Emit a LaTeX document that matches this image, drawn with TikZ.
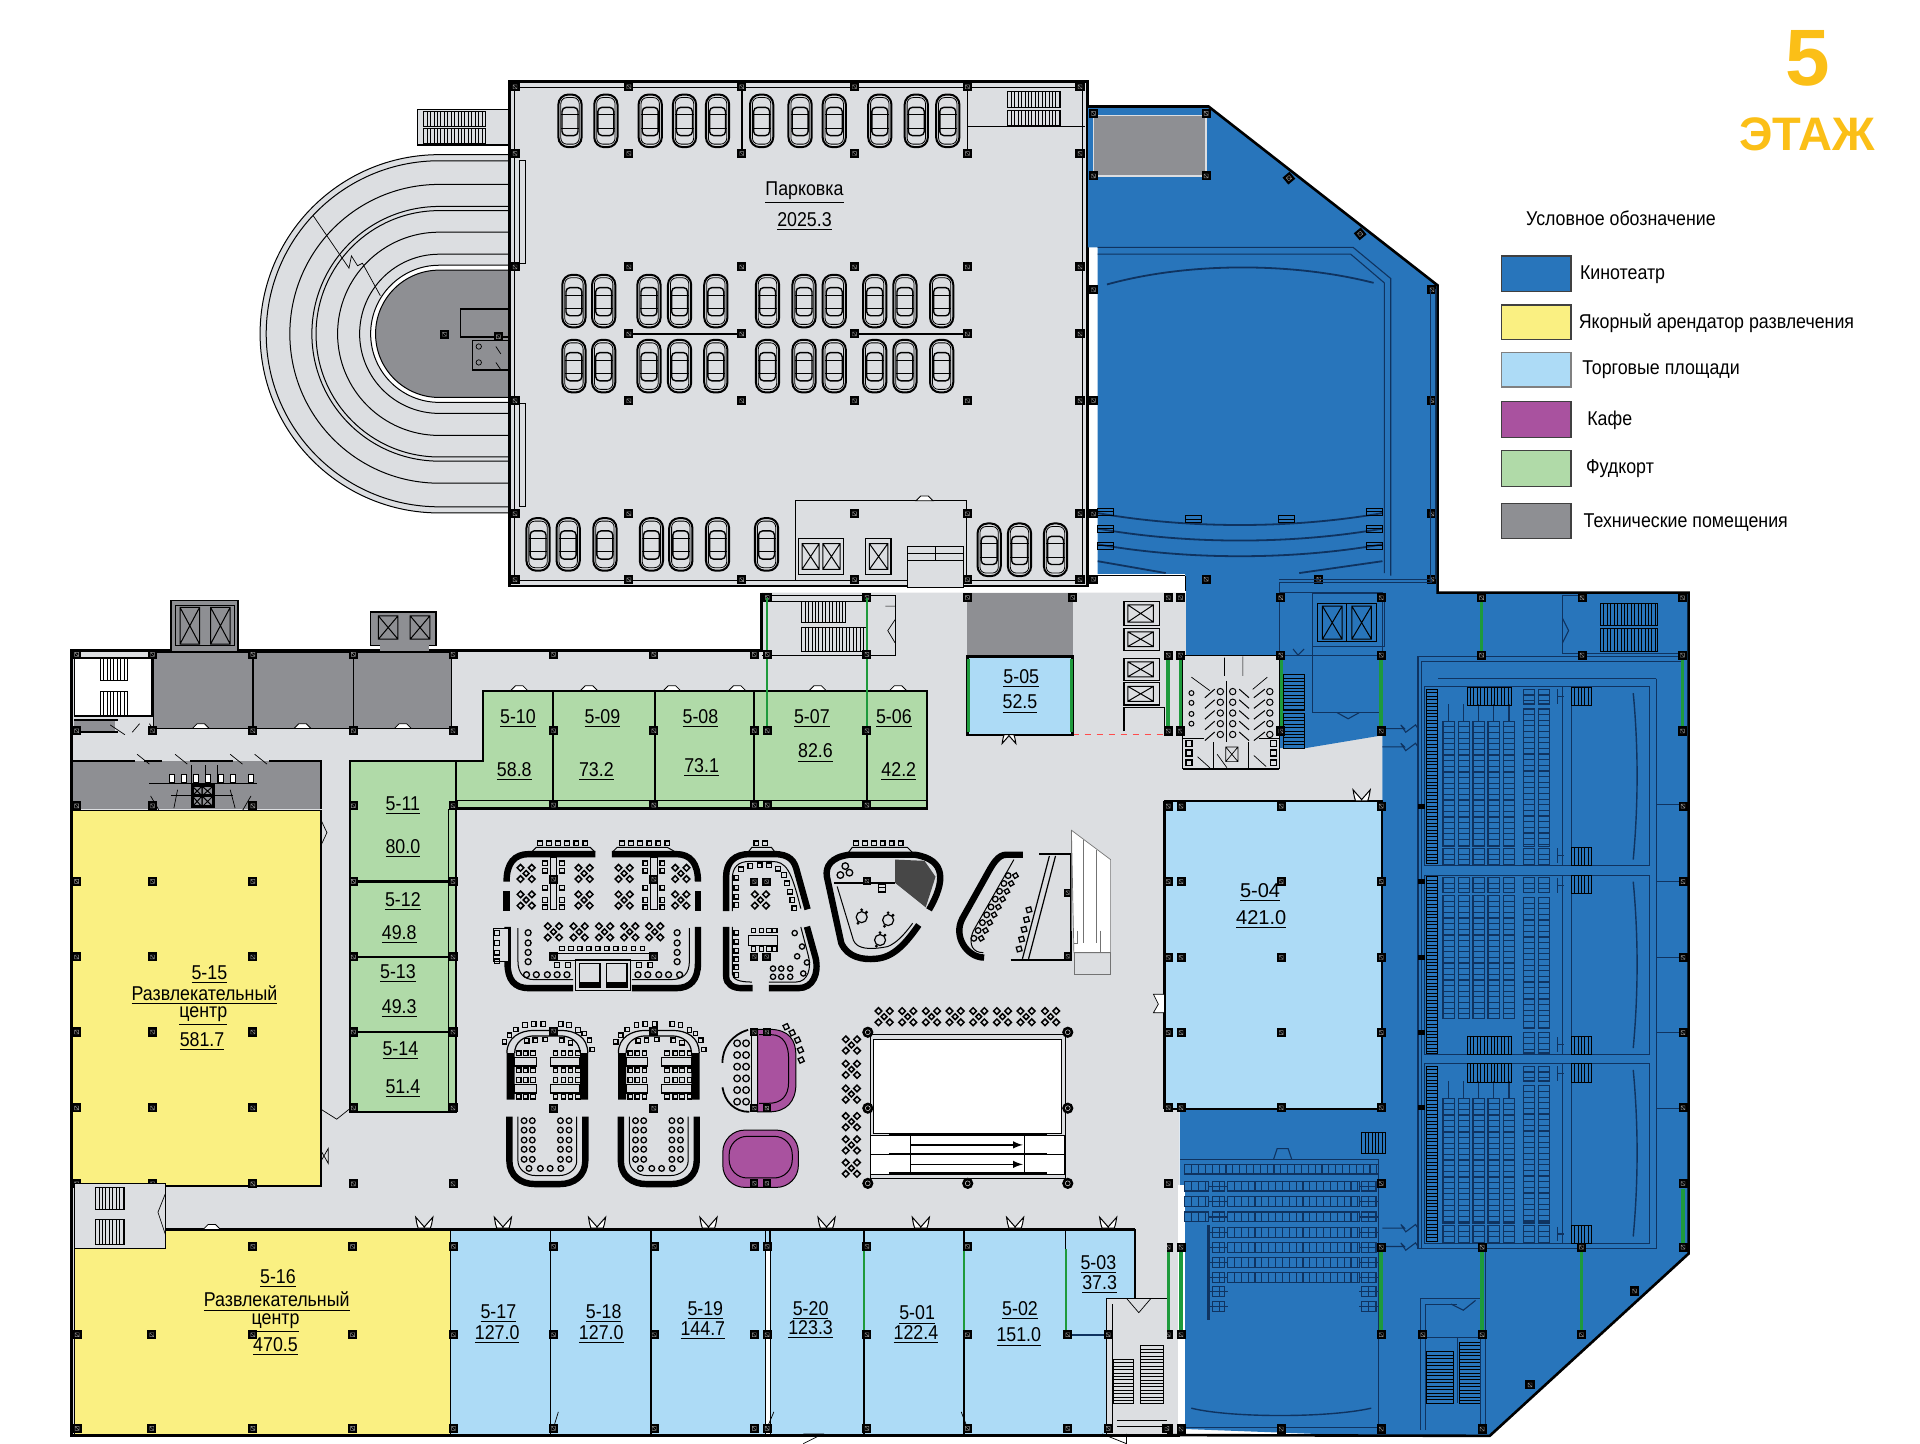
\documentclass[tikz,border=0pt]{standalone}
\usepackage{fontspec}
\setmainfont[FakeStretch=0.89]{Liberation Sans}
\newfontfamily\widefont[FakeStretch=1.0]{Liberation Sans}
\newfontfamily\headfont{Liberation Sans}
\definecolor{floorgray}{HTML}{DCDEE1}
\definecolor{techgray}{HTML}{8E8F93}
\definecolor{cinemablue}{HTML}{2875BB}
\definecolor{hallline}{HTML}{0F3360}
\definecolor{yellowroom}{HTML}{FAF082}
\definecolor{shopblue}{HTML}{ADDBF6}
\definecolor{foodgreen}{HTML}{B0DAA8}
\definecolor{cafepurple}{HTML}{A9529F}
\definecolor{floorsign}{HTML}{FBBF17}
\definecolor{glassgreen}{HTML}{1E9A3C}

\tikzset{
  colm/.pic={\fill[black] (-3.7,-3.7) rectangle (3.7,3.7);
             \draw[black!45,line width=.2pt] (-1.6,-1.6) rectangle (1.6,1.6) (-1.6,-1.6) -- (1.6,1.6);},
  roundcol/.pic={\fill[black] (0,0) circle (4.6); \draw[white,line width=.2pt] (0,0) circle (2);},
  car/.pic={\draw[line width=1pt,rounded corners=5pt] (-9.5,-21.5) rectangle (9.5,21.5);
            \draw[line width=.4pt,rounded corners=3pt] (-7.5,-19) rectangle (7.5,19);
            \draw[line width=.7pt,rounded corners=2pt] (-6.5,-11) rectangle (6.5,12);
            \draw[line width=.4pt] (-7.5,-5) -- (7.5,-5) (-7.5,6) -- (7.5,6);},
  xtbl/.pic={\foreach \dx/\dy in {-4.6/-4.6,4.6/-4.6,-4.6/4.6,4.6/4.6}
               \draw[line width=.75pt] (\dx-2.7,\dy) -- (\dx,\dy-2.7) -- (\dx+2.7,\dy) -- (\dx,\dy+2.7) -- cycle;
             \draw[line width=.75pt] (-2.4,0) -- (0,-2.4) -- (2.4,0) -- (0,2.4) -- cycle;},
  chr/.pic={\draw[line width=.65pt] (-2.4,-2.4) rectangle (2.4,2.4);},
  stl/.pic={\draw[line width=.65pt] (0,0) circle (2.7);},
  ydoor/.pic={\draw[line width=.5pt,fill=white] (-5,0) .. controls (-6,-3) .. (-7,-9) -- (0,-1) -- (7,-9) .. controls (6,-3) .. (5,0) -- cycle;},
  notch/.pic={\draw[line width=.4pt,fill=white] (-7,0) -- (-3,-4) -- (3,-4) -- (7,0) -- cycle;}
}
% stairs and elevators
\newcommand{\stairv}[4]{\draw[stairline] (#1,#2) rectangle (#3,#4);
  \pgfmathsetmacro{\qa}{#1}\pgfmathsetmacro{\qb}{#1+2.8}\pgfmathsetmacro{\qc}{#3}
  \foreach \s in {\qa,\qb,...,\qc} \draw[stairline] (\s,#2) -- (\s,#4);}
\newcommand{\stairh}[4]{\draw[stairline] (#1,#2) rectangle (#3,#4);
  \pgfmathsetmacro{\qa}{#2}\pgfmathsetmacro{\qb}{#2+2.8}\pgfmathsetmacro{\qc}{#4}
  \foreach \s in {\qa,\qb,...,\qc} \draw[stairline] (#1,\s) -- (#3,\s);}
\newcommand{\elev}[4]{\draw[line width=.5pt] (#1,#2) rectangle (#3,#4) (#1,#2) -- (#3,#4) (#1,#4) -- (#3,#2);}
\newcommand{\seatcol}[3]{\draw[hallseat] (#1-4.6,#2) rectangle (#1+4.6,#3);
  \pgfmathsetmacro{\qa}{#2}\pgfmathsetmacro{\qb}{#2+4.6}\pgfmathsetmacro{\qc}{#3}
  \foreach \s in {\qa,\qb,...,\qc} \draw[hallseat] (#1-4.6,\s) -- (#1+4.6,\s);}
\newcommand{\seatrow}[3]{\draw[hallseat] (#1,#3) rectangle (#2,#3+8);
  \pgfmathsetmacro{\qa}{#1}\pgfmathsetmacro{\qb}{#1+5.6}\pgfmathsetmacro{\qc}{#2}
  \foreach \s in {\qa,\qb,...,\qc} \draw[hallseat] (\s,#3) -- (\s,#3+8);}

\begin{document}
\begin{tikzpicture}[x=0.61224pt,y=-0.61224pt]

%
% Styles
%
\tikzstyle{wall} = [line width=.8pt,draw=black]
\tikzstyle{thinl} = [line width=.35pt,draw=black]
\tikzstyle{stairline} = [line width=.4pt,draw=black]
\tikzstyle{hallseat} = [line width=.6pt,draw=hallline]
\tikzstyle{hallthin} = [line width=.55pt,draw=hallline]
\tikzstyle{podwall} = [line width=3.2pt,draw=black]
\tikzstyle{glass} = [line width=1.8pt,draw=glassgreen]
\tikzstyle{swatch} = [line width=.6pt,draw=black!75]
\tikzstyle{roomlabel} = [inner sep=0pt,yshift=-1.2pt,font=\fontsize{10}{12}\selectfont]
\tikzstyle{legendlabel} = [inner sep=0pt,yshift=-1.2pt,anchor=west,font=\fontsize{10}{12}\selectfont]

\useasboundingbox (0,0) rectangle (1568,1179.25);

% floor
\fill[floorgray] (58.4,531) -- (622,531) -- (622,484) -- (1129,484) -- (1129,906) -- (963,906) -- (963,1172) -- (58.4,1172) -- cycle;
\draw[wall,line width=1.4pt] (622,484) -- (622,531) -- (58.4,531) -- (58.4,1172) -- (964,1172);

% ramp
\fill[floorgray] (417,126.3) -- (358.7,126.3) arc[start angle=270,end angle=90,radius=146.3] -- (417,418.9) -- cycle;
\fill[white] (417,216.6) -- (358.7,216.6) arc[start angle=270,end angle=90,radius=56] -- (417,328.6) -- cycle;
\fill[techgray] (417,220.6) -- (358.7,220.6) arc[start angle=270,end angle=90,radius=52] -- (417,324.6) -- cycle;
\foreach \r in {146.3,141.3,122,104,100.6,83,65,56,52}
  \draw[thinl,line width=.5pt] (417,{272.6-\r}) -- (358.7,{272.6-\r}) arc[start angle=270,end angle=90,radius=\r] -- (417,{272.6+\r});
\draw[thinl] (255.6,175.9) -- (285,219) -- (287,209) -- (292,217) -- (296,215) -- (310.6,241.5);
\draw[wall,fill=techgray] (376,252.3) rectangle (416,275);
\draw[wall,fill=techgray] (386,278) rectangle (416,302);
\foreach \y in {283,296} {\draw[thinl] (391,\y) circle (2.2); \draw[thinl] (405,\y) -- (409,\y+6);}
\pic at (407,275) {colm};
\pic at (363,273) {colm};
\fill[floorgray] (340.8,89.3) rectangle (416,118.4);
\draw[wall] (340.8,89.3) rectangle (416,118.4);
\stairv{346}{91}{396}{103}
\stairv{346}{105}{396}{117}

% parking
\draw[line width=1.3pt,fill=floorgray] (416,66.5) rectangle (888,478.4);
\draw[thinl] (420,71) rectangle (884,474);
\draw[thinl] (424,130.7) rectangle (429,215) (424,329) rectangle (429,413.6);
\draw[thinl,line width=.6pt] (790.4,103) -- (885.7,103) (790.4,71) -- (790.4,125);
\draw[thinl,line width=.8pt] (606,71) -- (606,125);
\stairv{823}{75}{866}{88}
\stairv{823}{90}{866}{102.4}
\draw[thinl,line width=.6pt] (516,272.7) -- (605.7,272.7) (697.8,272.7) -- (790,272.7);
\foreach \x in {465.5,494.8,531,559,586,622,653.4,681.3,718.5,748.3,774}
  \pic at (\x,98.7) {car};
\foreach \x in {468.7,493,530,555,584.6,626.8,656.6,681.3,714.3,739,769} {
  \pic at (\x,245.9) {car};
  \pic at (\x,299) {car};
}
\foreach \x in {439.4,464,494,532,556,586,626}
  \pic at (\x,444.6) {car};
\foreach \x in {807.8,832.6,862}
  \pic at (\x,449) {car};
\draw[thinl,line width=.6pt] (649.7,474) -- (649.7,409) -- (789.5,409) -- (789.5,474);
\pic at (755,409) {notch};
\draw[thinl,line width=.6pt] (652,440) rectangle (688.7,469) (707,440) rectangle (727.6,469);
\elev{655}{444}{669}{465}
\elev{672}{444}{686}{465}
\elev{710}{444}{725}{465}
\draw[thinl,line width=.6pt,fill=floorgray] (741.4,446) rectangle (787,480);
\draw[thinl] (741.4,452) -- (787,452) (741.4,458) -- (787,458) (764,446) -- (764,458);
\foreach \x in {420.6,513.6,605.7,697.8,790,882}
  \foreach \y in {70.9,218,327.3}
    \pic at (\x,\y) {colm};
\foreach \x in {420.6,513.6,605.7,697.8,790,882}
  \pic at (\x,125.4) {colm};
\foreach \x in {513.6,605.7,697.8,790,882}
  \pic at (\x,272.7) {colm};
\foreach \x in {420.6,513.6,697.8,790,882}
  \pic at (\x,419.5) {colm};
\foreach \x in {420.6,513.6,605.7,882,790,697.8}
  \pic at (\x,473.4) {colm};

% cinema
\fill[cinemablue] (888.6,87) -- (987,87) -- (1174,233) -- (1174,484) -- (1379,484) -- (1379,1023.8) -- (1216.6,1172.6) -- (1100,1172) -- (967.6,1167) -- (967.6,968) -- (963.5,968) -- (963.5,906) -- (1129,906) -- (1129,600.5) -- (1066,611) -- (1044.8,611) -- (1044.8,535) -- (968.6,535) -- (968.6,470) -- (896.4,470) -- (896.4,202) -- (888.6,202) -- cycle;
\draw[wall,line width=1.3pt] (888.6,87) -- (987,87) -- (1174,233) -- (1174,484) -- (1379,484) -- (1379,1023.8) -- (1216.6,1172.6) -- (958,1172);
\fill[white] (962,968) rectangle (967.6,1167);
\fill[white] (891,469) rectangle (968,483);
\draw[thinl,line width=.5pt] (891,470) -- (968,470) (968,470) -- (968,483);
\fill[techgray] (893,94.5) rectangle (985,143.7);
\draw[draw=floorgray,line width=.7pt] (893,94.5) rectangle (985,143.7);
\foreach \x in {893,985} \foreach \y in {92.6,143.7} \pic at (\x,\y) {colm};
\pic[rotate=40] at (1052.6,145.5) {colm};
\pic[rotate=40] at (1110.8,191) {colm};

% big hall
\draw[hallthin] (896.4,202) -- (1105,202) -- (1135.8,227.5) -- (1135.8,470);
\draw[hallthin] (896.4,207.5) -- (1103,207.5) -- (1130.5,231) -- (1130.5,468);
\draw[hallline,line width=.9pt] (904,232.3) .. controls (970,214) and (1055,214) .. (1121.8,231);
\foreach \y in {419,431.7,444.5}
  \draw[hallline,line width=.9pt] (896.4,\y) .. controls (970,{\y+13}) and (1055,{\y+13}) .. (1129,\y);
\draw[hallline,line width=.9pt] (896.4,458.3) -- (952,468) (1061,468) -- (1129,458.3);
\foreach \y in {415,429,443} {
  \stairh{896.4}{\y}{909}{\y+6}
  \stairh{1116}{\y}{1129}{\y+6}
}
\stairh{968}{421}{981}{427}
\stairh{1044}{421}{1057}{427}
\foreach \x in {1169.4,893} \foreach \y in {236.7,327,419.7,473} \pic at (\x,\y) {colm};
\pic at (985,473) {colm};
\pic at (1077,473) {colm};
\draw[hallthin] (1044.8,473) -- (1169,473) -- (1169,476) -- (1044.8,476) -- (1044.8,484);
\draw[hallthin] (1168.5,236) -- (1168.5,473) (1172,236) -- (1172,473);

% upper cinema lobby
\draw[hallthin] (1044.8,484) rectangle (1129,535);
\draw[hallthin] (1072,484.6) rectangle (1131,528);
\draw[hallthin] (1072,528) -- (1072,582) -- (1129,582);
\draw[line width=.5pt,draw=black] (1076,493) rectangle (1100,524) (1100,493) rectangle (1124,524);
\elev{1080}{495}{1096}{522}
\elev{1104}{495}{1120}{522}
\draw[hallthin] (1056,530) -- (1060,535) -- (1065,530) (1092,582) -- (1101,587) -- (1110,582);
\draw[hallthin] (1276,486) -- (1276,533.8) (1276,486) -- (1294,486) (1276,533.8) -- (1374,533.8);
\draw[hallthin] (1276,505) -- (1281,515) -- (1276,525);
\stairv{1307}{492.6}{1353.6}{511}
\stairv{1307}{513}{1353.6}{532}
\stairh{1048}{551}{1065}{580}
\stairh{1048}{583}{1065}{611}

% halls right
\draw[hallthin] (1158,1020) -- (1158,536.4) -- (1374.5,536.4) (1161,1020) -- (1161,540) -- (1374.5,540);
\draw[hallthin] (1352.6,554.3) -- (1174,554.3) (1352.6,554.3) -- (1352.6,1019.4) -- (1158,1019.4);
\draw[hallthin] (1352.6,657) -- (1374,657) (1352.6,720) -- (1374,720) (1352.6,782) -- (1374,782) (1352.6,843) -- (1374,843) (1352.6,905) -- (1374,905);
\foreach \y/\ha in {561/706.7,714.7/861.2,868.8/1015.8} {
  \draw[hallthin] (1163.5,\y) rectangle (1347,\ha);
  \draw[hallthin] (1283.2,\y) -- (1283.2,\ha) (1276,\y) -- (1276,\ha);
}
\foreach \tp/\btm/\ua/\ub in {561/706.7/589/691,868.8/1015.8/896.8/998.8} {
  \stairh{1165}{\tp+2}{1174}{\btm-2}
  \foreach \x in {1183,1195.4,1207.6,1219.8,1232.3} {
    \seatcol{\x}{\ua}{\ub}
    \seatcol{\x}{\ub+2}{\btm-1}
    \draw[hallseat] (\x,\tp+14) -- (\x,\ua);
  }
  \foreach \x in {1248.5,1260.7} {
    \seatcol{\x}{\tp+2}{\tp+14}
    \seatcol{\x}{\tp+18}{\ub}
    \seatcol{\x}{\ub+2}{\btm-1}
  }
  \stairv{1198}{\tp}{1234.5}{\tp+15}
  \stairv{1283}{\tp}{1299.5}{\tp+15}
  \stairv{1283}{\btm-15}{1299.5}{\btm}
  \draw[hallseat] (1272,\tp+2) -- (1272,\tp+14) (1272,\tp+8) -- (1277,\tp+8);
  \draw[hallseat] (1272,\btm-14) -- (1272,\btm-2) (1272,\btm-8) -- (1277,\btm-8);
  \draw[hallline,line width=.7pt] (1333.8,\tp+5) .. controls (1338,\tp+50) and (1338,\tp+95) .. (1333.8,\tp+141);
}
\stairh{1165}{716}{1174}{860}
\foreach \x in {1183,1195.4,1207.6,1219.8,1232.3} {
  \seatcol{\x}{731.3}{832}
  \seatcol{\x}{716.7}{729}
}
\foreach \x in {1248.5,1260.7} {
  \seatcol{\x}{716.7}{729}
  \seatcol{\x}{733}{840}
  \seatcol{\x}{843}{860}
}
\draw[hallseat] (1272,717) -- (1272,729) (1272,723) -- (1277,723) (1272,847) -- (1272,859) (1272,853) -- (1277,853);
\stairv{1283}{715}{1299.5}{730}
\stairv{1283}{846}{1299.5}{861}
\stairv{1198}{846}{1234.5}{861}
\draw[hallline,line width=.7pt] (1333.8,720) .. controls (1338,765) and (1338,810) .. (1333.8,856);
% lobby doors right
\foreach \y in {595,610,1003,1018}
  \draw[hallthin] (1129,\y) -- (1147,\y) -- (1144,\y-3) -- (1148,\y+3) -- (1156,\y-3) -- (1158,\y);

% lower hall
\draw[hallthin] (964,947) -- (1126,947) -- (1126,1166) -- (967.6,1166);
\draw[hallthin] (1040,947) -- (1043,938) -- (1052,938) -- (1055,947);
\stairv{1112}{925}{1131}{942}
\seatrow{967.6}{1126}{950.8}
\foreach \y in {964.7,977.3,989.8} {
  \seatrow{967.6}{987}{\y}
  \seatrow{1002.5}{1110}{\y}
}
\foreach \y in {1002.3,1014.9,1027,1039.5}
  \seatrow{1002.5}{1110}{\y}
\foreach \y in {964.7,977.3,989.8,1002.3,1014.9,1027,1039.5,1050.7,1062.8} {
  \draw[hallseat] (987,\y+4) -- (1002.5,\y+4) (1110,\y+4) -- (1126,\y+4);
  \seatrow{990}{1000}{\y}
  \seatrow{1112}{1124}{\y}
}
\fill[hallline] (986,1000) rectangle (988,1078);
\draw[hallline,line width=.7pt] (972.9,1150) .. controls (1005,1158) and (1085,1158) .. (1119.8,1150);
\draw[hallthin] (1160.4,1168) -- (1160.4,1060.6) -- (1212,1060.6) (1164,1168) -- (1164,1065) -- (1190,1065);
\draw[hallthin] (1185,1065) -- (1195,1070) -- (1205,1062);
\draw[hallthin] (1160.4,1092) -- (1212,1092);
\draw[hallthin] (1190,1092) -- (1190,1146);
\stairh{1165}{1104}{1187}{1146}
\stairh{1192}{1096}{1209}{1146}
\pic at (1334.8,1054.3) {colm};
\pic at (1249.5,1131) {colm};
\draw[hallthin] (1209,1022) -- (1209,1168) (1213,1022) -- (1213,1168);

% cinema glass
\foreach \x/\ya/\yb in {954/535.6/596,964.3/535.6/596,1046/535.6/597,1128/535/597,1210/488/534,1374/536/598,1128/1022.5/1087.5,1210.4/1022.5/1087.5,1291.6/1022.5/1087.5,1374.5/971/1018,954/1022.5/1089,964.5/1022.5/1089}
  \draw[glass] (\x,\ya) -- (\x,\yb);
\foreach \x in {954,964,1046,1128,1210,1292,1374} \pic at (\x,488.2) {colm};
\foreach \x in {954,964,1046,1128,1210,1292,1374} \pic at (\x,535) {colm};
\foreach \x in {954,964,1046,1128,1374} \pic at (\x,597) {colm};
\foreach \y in {658.3,720,782,843.3,904.7} {
  \pic at (1374.5,\y) {colm};
  \fill[black] (1158,\y-2) rectangle (1164,\y+2);
}
\foreach \x in {954,1128,1374.5} \pic at (\x,966.5) {colm};
\foreach \x in {954,964.5,1128,1210.4,1291.6,1374.5} \pic at (\x,1018.5) {colm};
\foreach \x in {954,964.5,1128,1162,1210.4,1291.6} \pic at (\x,1090) {colm};
\foreach \x in {954,964.5,1046.3,1128,1210.4} \pic at (\x,1167) {colm};

% elevators and restroom
\draw[thinl,line width=.5pt] (622,486.6) -- (731,486.6) -- (731,535) -- (622,535);
\draw[thinl] (626,491) -- (708,491) (708,491) -- (708,535);
\stairv{654.7}{512}{707.7}{532}
\stairv{654.7}{491.5}{690}{508}
\draw[thinl] (723,495) -- (731,495) (731,506) -- (725,515) -- (731,525);
\pic at (626.6,488) {colm};
\pic at (708,488) {colm};
\fill[techgray] (790,484) rectangle (876,536);
\pic at (790,488) {colm};
\pic at (876,488) {colm};
\foreach \y/\yb in {491/511,513/531,537.5/555.7,557.5/575.7} {
  \draw[thinl,line width=.6pt] (918,\y) rectangle (946.7,\yb);
  \elev{921}{\y+3}{942}{\yb-3}
}
\draw[thinl,line width=.6pt] (918,597) -- (918,578) -- (951,578) -- (951,597);
\draw[thinl,line width=.6pt] (968,535) -- (1044.8,535) (966,628) -- (1044.8,628) (966,535) -- (966,628) (1044.8,535) -- (1044.8,628);
\foreach \y in {564.8,573.5,582.3,591,599.8} {
  \foreach \x in {996.6,1006.7,1037} \draw[thinl,line width=.5pt] (\x,\y) circle (2.6);
  \draw[thinl,line width=.5pt] (992,\y-2) -- (984,\y+5) (1012,\y-2) -- (1020,\y+5) (1033,\y-2) -- (1024,\y+5);
}
\foreach \y in {566,574,583,591} \draw[thinl,line width=.5pt] (973,\y) circle (2);
\draw[thinl,line width=.8pt] (1001.5,556) -- (1001.5,606);
\foreach \y in {607,615,623} {\pic at (971,\y) {chr}; \pic at (1040,\y) {chr};}
\draw[thinl,line width=.5pt] (966,603) -- (983,603) (1028,603) -- (1044.8,603) (991,606) -- (991,627) (1020,606) -- (1020,627);
\draw[thinl] (978,618) -- (988,627) (994,616) -- (1002,627) (1024,617) -- (1034,626);
\draw[thinl] (1001,610) rectangle (1011,622) (1001,610) -- (1011,622) (1001,622) -- (1011,610);
\draw[thinl] (973,553) -- (988,564) (1023,563) -- (1035,553) (1000,537) -- (1000,552) (1015,536) -- (1015,552);
\draw[red!70,dashed,line width=.5pt] (876,600) -- (951,600);

% top gray rooms
\draw[thinl,fill=techgray] (125.4,532.8) rectangle (369,595);
\draw[line width=.7pt] (206.5,532.8) -- (206.5,595) (288.6,532.8) -- (288.6,595);
\draw[wall,fill=techgray] (139.5,490.5) rectangle (194.3,532);
\draw[thinl,fill=techgray] (143,494) rectangle (191,527);
\elev{147}{496}{163}{526}
\elev{172}{496}{188}{526}
\draw[wall,fill=techgray] (302.6,499.6) rectangle (356,527);
\elev{309}{503}{325}{522}
\elev{335}{503}{351}{522}
\fill[techgray] (310,527) rectangle (350,532);
\draw[wall,fill=white] (60.7,537.3) rectangle (124,584.5);
\stairv{81.8}{537.3}{104.3}{556}
\stairv{81.8}{565}{104.3}{584.5}
\draw[wall] (60.7,588) -- (96,588) (60.7,598) -- (96,598);
\fill[techgray] (60.7,589) rectangle (94,597);
\draw[thinl] (90,592) -- (102,600) (108,598) -- (114,591) (122,591) -- (126,597);
\foreach \x in {164,247,329} \pic at (\x,595) {notch};
\fill[techgray] (59.3,621.3) rectangle (262.3,661);
\draw[wall] (59.3,621.3) -- (110,621.3) (118,621.3) -- (132,621.3) (155,621.3) -- (190,621.3) (220,621.3) -- (262.3,621.3) -- (262.3,661);
\draw[thinl,line width=.5pt] (122,640) -- (210,640) (140,650) -- (190,650) (156,625) -- (156,640) (168,625) -- (168,640) (178,625) -- (178,640);
\foreach \x in {140,150,160,170,180,190,205} \draw[thinl,fill=white] (\x-2,632) rectangle (\x+2,639);
\draw[line width=1.5pt] (157,641.6) rectangle (174,659) (157,650) -- (174,650);
\elev{157}{642}{165}{650}
\elev{165}{642}{174}{650}
\elev{157}{650}{165}{659}
\elev{165}{650}{174}{659}
\draw[thinl] (123,650) -- (130,662) (205,650) -- (198,662) (145,645) -- (142,660) (188,645) -- (192,660);
\foreach \x in {114,145,190,210} \draw[thinl] (\x-2,616) -- (\x+8,624);

% rooms
\draw[wall,fill=yellowroom] (59.3,662) rectangle (262.3,968.7);
\draw[wall,fill=yellowroom] (60.7,1004) rectangle (368,1172);
\draw[line width=1.2pt] (135,1004) -- (368,1004);
\foreach \y in {719.8,781.5,842.8,904.8} \foreach \x in {62.6,124.5,206.5} \pic at (\x,\y) {colm};
\foreach \x in {62.6,124.5,206.5,288.6,370} \pic at (\x,966.8) {colm};
\foreach \x in {62.6,124.5,206.5} \pic at (\x,658.1) {colm};
\draw[wall,fill=floorgray] (60.7,966.4) -- (135,966.4) -- (135,1019.5) -- (60.7,1019.5) -- cycle;
\stairv{78}{970}{101.5}{988}
\stairv{78}{996}{101.5}{1016}
\draw[thinl] (135,975) -- (129,990) -- (135,1008);
\pic at (173,1004) {notch};
\draw[thinl] (262.3,670) -- (267,680) -- (262.3,690) (262.3,906) -- (275,914) -- (285,906) (262.3,940) -- (268,950) -- (268,938) -- (262.3,948);

% shops bottom
\draw[thinl,line width=.5pt,fill=shopblue] (368,1004) rectangle (927,1172);
\fill[floorgray] (903.5,1060.3) rectangle (953,1172);
\fill[floorgray] (927,1004) rectangle (953,1060.3);
\draw[line width=1.2pt] (368,1004) -- (927,1004);
\draw[line width=.8pt] (927,1004) -- (927,1060.3) -- (903.5,1060.3) -- (903.5,1172);
\foreach \x in {368,449.7,531.4,705.8,787.5}
  \draw[line width=.8pt] (\x,1004) -- (\x,1172);
\draw[line width=.8pt] (625.3,1004) -- (625.3,1172) (629,1004) -- (629,1172);
\fill[white] (625.8,1018) rectangle (628.5,1172);
\draw[glass,line width=1pt] (705.8,1020) -- (705.8,1088) (787.5,1020) -- (787.5,1088) (870.3,1020) -- (870.3,1086);
\draw[line width=.8pt] (870.3,1004) -- (870.3,1020);
\draw[line width=1.3pt,draw=hallline] (870.3,1090.3) -- (903.5,1090.3);
\foreach \x in {346.5,410.7,487.6,578.6,675,752,829,905} \pic at (\x,1003) {ydoor};
\draw[line width=1.3pt] (58,1172) -- (964,1172);
\foreach \x in {63,124,206.5,288,370.4,452,534.3,616,626.5,708,790,872,953}
  \pic at (\x,1166.5) {colm};
\foreach \x in {206.5,288,370.4,452,534.3,616,626.5,708,790} \pic at (\x,1018) {colm};
\foreach \x in {63,124,206.5,288,370.4,452,534.3,616,626.5,708,790,872} \pic at (\x,1090) {colm};
\pic at (905,1090) {colm};
\pic at (905,1166.5) {colm};
\draw[thinl] (452,1166) -- (456,1153) (626.5,1166) -- (632,1153) (790,1166) -- (785,1153);
\draw[thinl] (656,1179) -- (672,1171) -- (656,1171) (900,1171) -- (920,1179) -- (920,1171);
\stairh{909}{1110}{926}{1146}
\stairh{931}{1099}{950}{1146}
\draw[thinl] (903.5,1060.3) -- (953,1060.3) (908,1065) -- (908,1168) (912,1160) -- (953,1160) (912,1165) -- (953,1165);
\draw[thinl] (920,1060.3) -- (930,1072) -- (940,1060.3);

% food court rooms
\draw[wall,line width=1.2pt,fill=foodgreen] (394.5,564.1) -- (756.9,564.1) -- (756.9,660.4) -- (372.5,660.4) -- (372.5,621.3) -- (394.5,621.3) -- cycle;
\draw[thinl] (372.5,654) -- (756.9,654);
\foreach \x in {452,534.7,616,708} \draw[line width=1pt] (\x,564.1) -- (\x,660.4);
\draw[wall,line width=1.2pt,fill=foodgreen] (285.7,621.3) rectangle (372.5,908);
\draw[thinl] (366,661) -- (366,908);
\foreach \y in {719.8,781.5,842.8} \draw[line width=1.2pt] (285.7,\y) -- (372.5,\y);
\foreach \x in {424,481,548.7,602,667.8,733.4} \pic at (\x,564) {notch};
\draw[glass,line width=.9pt] (626.6,488) -- (626.6,597) (708,488) -- (708,597);
\foreach \y in {534.4} \foreach \x in {62.6,124.5,206.5,288.6,370,452,534,616} \pic at (\x,\y) {colm};
\foreach \x in {62.6,124.5,206.5,288.6,370,452,534,616,626.6,708} \pic at (\x,596.8) {colm};
\foreach \x in {452,534,616,626.6,708} \pic at (\x,657.5) {colm};
\foreach \x in {288.6,370} {
  \foreach \y in {658,719.8,781.5,842.8,904.8} \pic at (\x,\y) {colm};
}
\pic at (626.6,534.4) {colm};
\pic at (708,534.4) {colm};

% 5-05 and 5-04
\draw[line width=1.2pt,fill=shopblue] (790,536) rectangle (876,600);
\draw[glass] (791,538) -- (791,598) (875,538) -- (875,598);
\pic[rotate=180,scale=.8] at (824,600) {ydoor};
\draw[line width=1pt,fill=shopblue] (951,654.2) rectangle (1129,906);
\draw[line width=1.6pt] (951,654.2) -- (951,906);
\pic at (1112,654) {ydoor};
\draw[thinl,fill=white] (951,812) -- (942,812) -- (946,820) -- (942,827) -- (951,827) -- cycle;
\foreach \y in {658.3,720,782,843.3,904.7} \foreach \x in {954,964.5,1046.3,1128} \pic at (\x,\y) {colm};

% escalator well and tables
\foreach \x in {722,741.3,760.7,780,799.3,818.7,838,858} \pic at (\x,830.3) {xtbl};
\foreach \y in {853.4,873.3,893.5,916,935,954} \pic at (695.3,\y) {xtbl};
\draw[thinl] (711,845) rectangle (870,962);
\draw[thinl,line width=.5pt,fill=white] (713.7,848.8) rectangle (867,925.6);
\draw[thinl,line width=.6pt,fill=white] (711,927) rectangle (869.7,959);
\draw[thinl] (711,942.7) -- (869.7,942.7) (743.7,927) -- (743.7,959) (836.3,927) -- (836.3,959);
\draw[line width=1.1pt] (726,927) -- (854.7,927) (726,942.7) -- (854.7,942.7) (726,958.2) -- (854.7,958.2);
\foreach \y in {935,950.9} {\draw[line width=.7pt,-latex] (743.7,\y) -- (835.3,\y);}
\foreach \x/\y in {708.7/843,872/843,708.7/905,872/905,708.7/966.4,790.3/966.4,872/966.4} \pic at (\x,\y) {roundcol};

% pod top left
\draw[podwall] (413.7,720) .. controls (413.7,705) and (420,697.5) .. (432,697.5) -- (486.3,697.5);
\draw[podwall] (413.7,727.7) -- (413.7,744);
\draw[podwall] (499.7,697.5) -- (552,697.5) .. controls (564,697.5) and (570,705) .. (570,720);
\draw[podwall] (570,727.7) -- (570,744);
\draw[thinl,line width=.5pt] (434,696) -- (438,692) -- (482,692) -- (486,696) (500,696) -- (504,692) -- (545,692) -- (552,696);
\foreach \x in {441,448.4,455.8,463.2,470.6,478,508,515.4,522.8,530.2,537.6,545} \pic[scale=.8] at (\x,688.7) {chr};
\foreach \x in {429.7,477,509.7,556} \foreach \y in {713.3,735} \pic at (\x,\y) {xtbl};
\foreach \o in {0,82} \draw[thinl,line width=.6pt] (449.3+\o,700) rectangle (454.7+\o,743);
\foreach \o in {0,82} \foreach \y in {705,711,725,735,741} {
  \pic[scale=.8] at (445+\o,\y) {chr};
  \pic[scale=.8] at (459+\o,\y) {chr};
}
\pic at (452,718) {colm};
\pic at (534,718) {colm};

% pod bottom centre
\draw[podwall] (414.5,757) -- (414.5,786.7) .. controls (414.5,800) and (420,807) .. (432,807) -- (468,807);
\draw[podwall] (516,807) -- (552,807) .. controls (564,807) and (570,800) .. (570,786.7) -- (570,757);
\draw[thinl,line width=.5pt] (423,758) -- (423,785) .. controls (423,795) and (428,800) .. (436,800) -- (468,800) (516,800) -- (548,800) .. controls (558,800) and (563,795) .. (563,785) -- (563,758);
\draw[thinl,fill=floorgray] (403,758) rectangle (415,785);
\foreach \y in {762,770,778,785} \pic[scale=.8] at (406,\y) {chr};
\foreach \x in {452,473,493.7,514.3,534.7} \pic at (\x,761) {xtbl};
\foreach \y in {761.7,770,777.8,785.4} {\pic[scale=.9] at (431.3,\y) {stl}; \pic[scale=.9] at (553,\y) {stl};}
\foreach \x in {430,438,447,455,463,521,529,538,546,555} \pic[scale=.9] at (\x,796) {stl};
\draw[thinl,fill=floorgray,line width=.5pt] (449.3,779) rectangle (537,784.6);
\foreach \x in {459,466.3,473.6,480.9,488.2,495.5,502.8,510.1,517.4,524.7} \pic[scale=.75] at (\x,774.5) {chr};
\pic at (452,781.5) {colm};
\pic at (534,781.5) {colm};
\draw[thinl,line width=.6pt,fill=floorgray] (470,784) rectangle (515,809);
\draw[thinl,line width=.6pt,fill=floorgray] (473,787) rectangle (490,806) (495,787) rectangle (512,806);
\fill[black] (473,802) rectangle (490,806) (495,802) rectangle (512,806);
\foreach \x in {455,464,522,531} \pic[scale=.8] at (\x,788) {chr};

% pod D and E
\draw[podwall] (593,744) -- (593,716) .. controls (593,704) and (600,697.5) .. (612,697.5) -- (632,697.5) .. controls (645,697.5) and (649,703) .. (651,712) -- (659.5,742.6);
\draw[thinl,line width=.5pt] (598,744) -- (598,718) .. controls (598,708) and (603,703.5) .. (612,703.5) -- (630,703.5) .. controls (642,703.5) and (646,710) .. (654,742);
\draw[thinl,line width=.5pt] (611,696) -- (614,692) -- (630,692) -- (633,696);
\foreach \x in {617.7,624.7} \pic[scale=.8] at (\x,688.7) {chr};
\foreach \x/\y in {605.3/710,612.7/707.3,620.3/706.7,628/706.7,635.3/709.4,640.3/714.6,642.7/721.4,645.3/728.2,647/735,648.7/741.8,601.3/716.8,601.3/725,601.3/732.3,601.3/739.1} \pic[scale=.8] at (\x,\y) {chr};
\pic[scale=.9] at (616,720) {colm};
\pic[scale=.9] at (626,720) {colm};
\pic at (621,735) {xtbl};
\draw[podwall] (593,757) -- (593,797) .. controls (593,804) and (599,807) .. (606,807) -- (614.7,807);
\draw[podwall] (628,807) -- (652,807) .. controls (664,807) and (669,795) .. (666,782) -- (659,756.8);
\draw[thinl,line width=.5pt] (598,757) -- (598,795) .. controls (598,800) and (604,802) .. (614,802) (628,802) -- (650,802) .. controls (660,802) and (663,790) .. (660,780) -- (654,757);
\foreach \y in {761.7,769,776.4,783.5,790,796.3} \pic[scale=.8] at (601.3,\y) {chr};
\draw[thinl,fill=floorgray] (611,763.6) rectangle (635,771.8);
\foreach \x in {615.3,622,628,632.7} {\pic[scale=.75] at (\x,760) {chr}; \pic[scale=.75] at (\x,775) {chr};}
\pic[scale=.9] at (616,781.3) {colm};
\pic[scale=.9] at (626,781.3) {colm};
\foreach \x/\y in {649/762,655/773,651/781,659/786,631.3/791,638/791,645.3/791,631.3/797.7,638/797.7,645.3/797.7,656/795} \pic[scale=.8] at (\x,\y) {stl};

% pod F
\fill[black!72] (731,702) -- (755,703) -- (764,716) -- (756,741) -- (731,721) -- cycle;
\draw[podwall,line cap=butt] (758.7,743) .. controls (772,720) and (773,702) .. (747,698) -- (693.7,698) .. controls (678,700) and (674,708) .. (675.3,716) -- (687,770) .. controls (692,782) and (705,784) .. (715,783) .. controls (730,782) and (740,770) .. (750.3,755.4);
\draw[thinl,line width=.5pt] (683.7,724) -- (697,768) .. controls (700,775) and (710,776) .. (725,773) .. controls (732,770) and (738,764) .. (745.3,754);
\draw[line width=1.1pt] (681,721.4) -- (731.3,721.4);
\pic[scale=.9] at (708,719.5) {colm};
\stairh{717}{722}{723}{729}
\draw[thinl,line width=.5pt] (693,696) -- (696,692) -- (741,692) -- (745,696);
\foreach \x in {699,706.3,713.6,720.9,728.2,735.5} \pic[scale=.8] at (\x,688.7) {chr};
\foreach \x/\y in {690.3/707.3,686.3/714.6,693.7/712.7} \pic at (\x,\y) {stl};
\foreach \x/\y in {703.7/749,725.3/751.4,718.7/767.7} {
  \draw[thinl,line width=.6pt] (\x,\y) circle (4.5);
  \fill (\x-3,\y+5) circle (1.3) (\x+4,\y-4) circle (1.3) (\x,\y-6) circle (1.3);
}

% pod G
\draw[podwall] (835.3,698) -- (822,698) .. controls (815,698) and (811,705) .. (805,716) -- (786,750) .. controls (778,765) and (790,782) .. (803.7,782);
\draw[thinl,line width=.5pt] (828,702) -- (795,760) .. controls (790,772) and (795,778) .. (803,778);
\foreach \i in {0,1,...,8} {
  \pic[scale=.85] at ({795.3+\i*3.5},{766.3-\i*6.4}) {stl};
  \pic[scale=.7,rotate=30] at ({801.3+\i*3.5},{766.3-\i*6.4}) {chr};
}
\draw[line width=.9pt] (848.7,697.5) -- (875.3,697.5) (825.3,784) -- (875.3,784);
\draw[thinl,line width=.6pt] (857,699) -- (835,783) (862,699) -- (840,783);
\foreach \i in {0,1,2,3,4} \pic[scale=.8,rotate=15] at ({840.3-\i*2},{743+\i*8}) {chr};
\draw[line width=.7pt] (874.7,697.5) -- (874.7,784);
\pic[scale=.9] at (872,729) {colm};
\pic[scale=.9] at (872,781) {colm};
\draw[black!55,line width=.35pt,fill=white] (875,678) -- (907,702) -- (907,778) -- (877,778) -- cycle;
\draw[black!55,line width=.35pt] (877,778) rectangle (907,796) (875,678) -- (875,760) (885,686) -- (885,770) (895,694) -- (895,770) (880,760) -- (880,770) -- (877,770) (899,760) -- (899,778);

% pods lower left
\foreach \o in {0,91} {
  \begin{scope}[shift={(\o,0)}]
    \draw[thinl,line width=.6pt] (414,860) .. controls (414,847) and (425,841.5) .. (436,841.5) -- (458,841.5) .. controls (470,841.5) and (480,847) .. (480,860);
    \draw[thinl,line width=.6pt] (420.3,860) .. controls (420.3,851) and (428,846) .. (436,846) -- (458,846) .. controls (466,846) and (473.7,851) .. (473.7,860);
    \fill[black] (413.7,860) rectangle (420.3,898) (473.7,860) rectangle (480.3,898);
    \foreach \x/\y in {412/850.7,416/845.3,421.3/840.7,428.7/837.1,436/836.3,443.7/836.3,458/836.3,464.7/837.1,472/841.2,477/843.9,481.3/849.4,483.7/857,430.3/849.9,437/849.4,445.3/848.8,458.7/849.4,466/851.5}
      \pic[scale=.75] at (\x,\y) {chr};
    \foreach \y in {863.5,885.6} \draw[thinl,line width=.6pt] (420.3,\y) rectangle (438,\y+7) (449.3,\y) rectangle (473.7,\y+7);
    \foreach \y in {860.2,873.9,882,895.6} {
      \foreach \x in {423.7,429.3,435.3,453.7,460.3,466,472} \pic[scale=.75] at (\x,\y) {chr};
    }
    \draw[podwall] (416,912) -- (416,948) .. controls (416,960) and (425,967) .. (437,967) -- (457,967) .. controls (469,967) and (478,960) .. (478,948) -- (478,912);
    \draw[thinl,line width=.5pt] (423,912) -- (423,948) .. controls (423,955) and (430,960) .. (437,960) -- (457,960) .. controls (464,960) and (471,955) .. (471,948) -- (471,912);
    \foreach \y in {915.2,922.9,931,938.6,946.8} \foreach \x in {428,434.7,457.7,464.7} \pic[scale=.85] at (\x,\y) {stl};
    \foreach \x in {432,441.3,449.3,458} \pic[scale=.85] at (\x,954.2) {stl};
  \end{scope}
}
\pic at (452,905) {colm};
\pic at (534,905) {colm};
\pic at (452,842) {colm};
\pic at (534,842) {colm};

% cafe
\draw[line width=.5pt,fill=cafepurple] (618.7,840.6) -- (628,840.6) .. controls (645,840.6) and (650,850) .. (650,862) -- (650,885) .. controls (650,900) and (642,908) .. (628,908) -- (618.7,908) -- cycle;
\draw[line width=.5pt] (620,845) -- (630,845) .. controls (640,845) and (644,854) .. (644,864) -- (644,884) .. controls (644,895) and (638,901) .. (628,901) -- (620,901);
\draw[thinl,line width=.6pt] (614,841) -- (614,908) (618.7,841) -- (618.7,908);
\draw[line width=.9pt] (611,841) .. controls (598,845) and (590,855) .. (590,868) (590,888) .. controls (592,900) and (600,908) .. (612,908);
\foreach \y in {852,861.6,871.1,880.7,890.2,899.7} {\pic at (602,\y) {stl}; \pic at (609.3,\y) {stl};}
\foreach \x/\y in {642/838.5,647/843.4,651.3/849.4,653.7/857.5,654.3/865.7} \pic[scale=.8,rotate=25] at (\x,\y) {chr};
\draw[line width=.5pt,fill=cafepurple,rounded corners=11pt] (590.3,922.9) rectangle (652,969.7);
\draw[line width=.5pt,rounded corners=9pt] (595.5,928) rectangle (647,962);
\foreach \x in {616,626.3} {
  \pic[scale=.9] at (\x,843) {colm};
  \pic[scale=.9] at (\x,905) {colm};
  \pic[scale=.9] at (\x,966.4) {colm};
}

% legend
\fill[cinemablue] (1226,209) rectangle (1283,238);
\draw[swatch] (1226,209) rectangle (1283,238);
\draw[swatch,fill=yellowroom] (1226,249) rectangle (1283,277);
\draw[swatch,fill=shopblue,draw=black!50] (1226,288) rectangle (1283,316);
\draw[swatch,fill=cafepurple] (1226,328) rectangle (1283,357);
\draw[swatch,fill=foodgreen] (1226,368) rectangle (1283,397);
\draw[swatch,fill=techgray] (1226,411) rectangle (1283,440);

\node[legendlabel] (legendtitle) at (1246,176) {Условное обозначение};
\node[legendlabel] (cinema) at (1290,222) {Кинотеатр};
\node[legendlabel] (anchor) at (1289,262) {Якорный арендатор развлечения};
\node[legendlabel] (shops) at (1292,300) {Торговые площади};
\node[legendlabel] (cafe) at (1296,341) {Кафе};
\node[legendlabel] (foodcourt) at (1295,381) {Фудкорт};
\node[legendlabel] (tech) at (1293,425) {Технические помещения};

\node[inner sep=0pt,text=floorsign,font=\headfont\bfseries\fontsize{40}{40}\selectfont] (floornum) at (1476,48) {5};
\node[inner sep=0pt,text=floorsign,font=\headfont\bfseries\fontsize{23.5}{25}\selectfont] (floorword) at (1476,110) {ЭТАЖ};

% labels
\node[roomlabel] (park) at (657,155) {\underline{Парковка}};
\node[roomlabel] (parka) at (657,179) {\underline{2025.3}};
\node[roomlabel] (r510) at (423,585) {\underline{5-10}};
\node[roomlabel] (r510a) at (420,628) {\underline{58.8}};
\node[roomlabel] (r509) at (492,585) {\underline{5-09}};
\node[roomlabel] (r509a) at (487,628) {\underline{73.2}};
\node[roomlabel] (r508) at (572,585) {\underline{5-08}};
\node[roomlabel] (r508a) at (573,625) {\underline{73.1}};
\node[roomlabel] (r507) at (663,585) {\underline{5-07}};
\node[roomlabel] (r507a) at (666,613) {\underline{82.6}};
\node[roomlabel] (r506) at (730,585) {\underline{5-06}};
\node[roomlabel] (r506a) at (734,628) {\underline{42.2}};
\node[roomlabel] (r511) at (329,656) {\underline{5-11}};
\node[roomlabel] (r511a) at (329,691) {\underline{80.0}};
\node[roomlabel] (r512) at (329,734) {\underline{5-12}};
\node[roomlabel] (r512a) at (326,761) {\underline{49.8}};
\node[roomlabel] (r513) at (325,793) {\underline{5-13}};
\node[roomlabel] (r513a) at (326,822) {\underline{49.3}};
\node[roomlabel] (r514) at (327,856) {\underline{5-14}};
\node[roomlabel] (r514a) at (329,887) {\underline{51.4}};
\node[roomlabel] (r515) at (171,794) {\underline{5-15}};
\node[roomlabel] (r515n) at (167,811) {\underline{Развлекательный}};
\node[roomlabel] (r515c) at (166,828) {\underline{центр}};
\node[roomlabel] (r515a) at (165,849) {\underline{581.7}};
\node[roomlabel] (r516) at (227,1042) {\underline{5-16}};
\node[roomlabel] (r516n) at (226,1061) {\underline{Развлекательный}};
\node[roomlabel] (r516c) at (225,1079) {\underline{центр}};
\node[roomlabel] (r516a) at (225,1098) {\underline{470.5}};
\node[roomlabel] (r517) at (407,1071) {\underline{5-17}};
\node[roomlabel] (r517a) at (406,1088) {\underline{127.0}};
\node[roomlabel] (r518) at (493,1071) {\underline{5-18}};
\node[roomlabel] (r518a) at (491,1088) {\underline{127.0}};
\node[roomlabel] (r519) at (576,1068) {\underline{5-19}};
\node[roomlabel] (r519a) at (574,1085) {\underline{144.7}};
\node[roomlabel] (r520) at (662,1068) {\underline{5-20}};
\node[roomlabel] (r520a) at (662,1084) {\underline{123.3}};
\node[roomlabel] (r501) at (749,1072) {\underline{5-01}};
\node[roomlabel] (r501a) at (748,1088) {\underline{122.4}};
\node[roomlabel] (r502) at (833,1068) {\underline{5-02}};
\node[roomlabel] (r502a) at (832,1090) {\underline{151.0}};
\node[roomlabel] (r503) at (897,1031) {\underline{5-03}};
\node[roomlabel] (r503a) at (898,1047) {\underline{37.3}};
\node[roomlabel,font=\widefont\fontsize{10}{12}\selectfont] (r504) at (1029,727) {\underline{5-04}};
\node[roomlabel,font=\widefont\fontsize{10}{12}\selectfont] (r504a) at (1030,749) {\underline{421.0}};
\node[roomlabel] (r505) at (834,552) {\underline{5-05}};
\node[roomlabel] (r505a) at (833,573) {\underline{52.5}};

\end{tikzpicture}
\end{document}
